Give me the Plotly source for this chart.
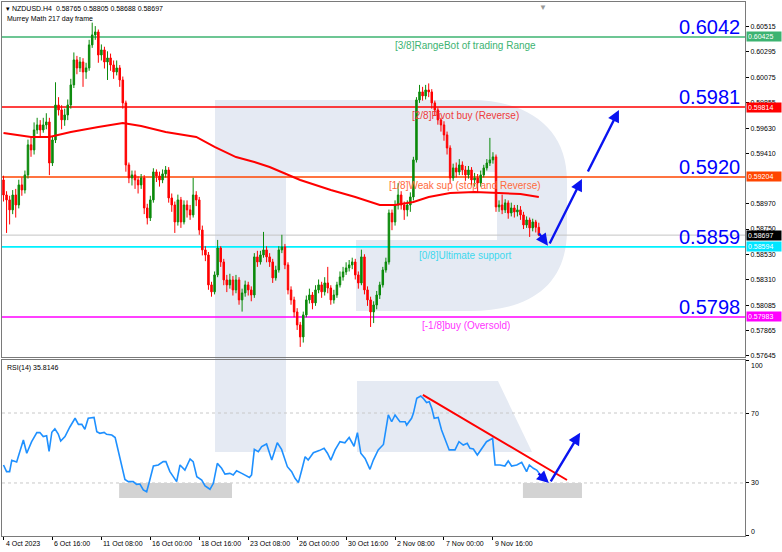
import plotly.graph_objects as go

# ---------------- DATA ----------------
first_open = 0.59178
closes = [
    0.59047, 0.59004, 0.58917, 0.59047, 0.58960, 0.59135, 0.59091, 0.59222, 0.59484, 0.59440,
    0.59614, 0.59658, 0.59614, 0.59658, 0.59684, 0.59326, 0.59527, 0.59832, 0.59789, 0.59702,
    0.59745, 0.59832, 0.60007, 0.60225, 0.60155, 0.60207, 0.60120, 0.60155, 0.60356, 0.60443,
    0.60469, 0.60268, 0.60312, 0.60207, 0.60242, 0.60181, 0.60120, 0.60155, 0.60050, 0.59850,
    0.59309, 0.59196, 0.59222, 0.59178, 0.59135, 0.59196, 0.58934, 0.58847, 0.59004, 0.59248,
    0.59213, 0.59178, 0.59231, 0.59265, 0.59021, 0.58960, 0.58812, 0.59004, 0.58812, 0.58960,
    0.58917, 0.58873, 0.59047, 0.59004, 0.58742, 0.58568, 0.58524, 0.58263, 0.58202, 0.58350,
    0.58585, 0.58463, 0.58306, 0.58263, 0.58306, 0.58219, 0.58306, 0.58132, 0.58193, 0.58263,
    0.58219, 0.58175, 0.58507, 0.58463, 0.58524, 0.58568, 0.58507, 0.58463, 0.58324, 0.58393,
    0.58568, 0.58594, 0.58437, 0.58219, 0.58132, 0.58027, 0.57914, 0.57809, 0.58001, 0.58132,
    0.58175, 0.58106, 0.58219, 0.58263, 0.58202, 0.58280, 0.58236, 0.58132, 0.58175, 0.58263,
    0.58332, 0.58376, 0.58411, 0.58437, 0.58463, 0.58350, 0.58280, 0.58507, 0.58219, 0.58132,
    0.58027, 0.58088, 0.58175, 0.58263, 0.58393, 0.58463, 0.58890, 0.58812, 0.58960, 0.59047,
    0.58960, 0.58917, 0.58960, 0.59030, 0.59353, 0.59876, 0.59946, 0.59911, 0.59963, 0.59946,
    0.59850, 0.59789, 0.59702, 0.59658, 0.59571, 0.59457, 0.59196, 0.59283, 0.59248, 0.59309,
    0.59265, 0.59222, 0.59265, 0.59178, 0.59196, 0.59152, 0.59222, 0.59283, 0.59326, 0.59353,
    0.59379, 0.58943, 0.58960, 0.58917, 0.58978, 0.58890, 0.58934, 0.58899, 0.58917, 0.58873,
    0.58786, 0.58829, 0.58760, 0.58812, 0.58765, 0.58697,
]
highs = [
    0.59215, 0.59080, 0.59040, 0.59090, 0.59100, 0.59180, 0.59200, 0.59260, 0.59530, 0.59560,
    0.59680, 0.59720, 0.59700, 0.59720, 0.59760, 0.59720, 0.59560, 0.60030, 0.59900, 0.59830,
    0.59800, 0.59880, 0.60060, 0.60290, 0.60260, 0.60250, 0.60240, 0.60200, 0.60400, 0.60550,
    0.60520, 0.60490, 0.60360, 0.60340, 0.60300, 0.60280, 0.60220, 0.60220, 0.60180, 0.60080,
    0.59870, 0.59330, 0.59260, 0.59260, 0.59210, 0.59230, 0.59220, 0.58970, 0.59040, 0.59280,
    0.59270, 0.59250, 0.59270, 0.59300, 0.59290, 0.59060, 0.58990, 0.59050, 0.59030, 0.59000,
    0.59000, 0.58960, 0.59196, 0.59080, 0.59030, 0.58780, 0.58600, 0.58550, 0.58290, 0.58380,
    0.58655, 0.58600, 0.58490, 0.58350, 0.58360, 0.58340, 0.58350, 0.58330, 0.58230, 0.58300,
    0.58290, 0.58250, 0.58540, 0.58560, 0.58560, 0.58725, 0.58600, 0.58540, 0.58490, 0.58430,
    0.58600, 0.58700, 0.58620, 0.58460, 0.58250, 0.58160, 0.58060, 0.57940, 0.58030, 0.58170,
    0.58230, 0.58200, 0.58260, 0.58310, 0.58290, 0.58330, 0.58420, 0.58260, 0.58220, 0.58290,
    0.58380, 0.58420, 0.58460, 0.58480, 0.58500, 0.58490, 0.58380, 0.58570, 0.58530, 0.58250,
    0.58160, 0.58120, 0.58210, 0.58290, 0.58420, 0.58500, 0.58920, 0.58920, 0.59000, 0.59150,
    0.59080, 0.58990, 0.59000, 0.59070, 0.59380, 0.59900, 0.60007, 0.59990, 0.60007, 0.60020,
    0.59970, 0.59870, 0.59810, 0.59720, 0.59690, 0.59600, 0.59480, 0.59320, 0.59330, 0.59360,
    0.59340, 0.59300, 0.59300, 0.59290, 0.59240, 0.59230, 0.59260, 0.59310, 0.59360, 0.59545,
    0.59420, 0.59400, 0.59000, 0.59050, 0.59010, 0.59000, 0.58980, 0.58960, 0.58960, 0.58950,
    0.58900, 0.58860, 0.58850, 0.58840, 0.58830, 0.58805,
]
lows = [
    0.58990, 0.58716, 0.58790, 0.58880, 0.58850, 0.58930, 0.59040, 0.59060, 0.59190, 0.59380,
    0.59400, 0.59580, 0.59560, 0.59590, 0.59620, 0.59220, 0.59300, 0.59500, 0.59740, 0.59620,
    0.59650, 0.59700, 0.59800, 0.59980, 0.60100, 0.60120, 0.59990, 0.60060, 0.60130, 0.60330,
    0.60400, 0.60200, 0.60220, 0.60150, 0.60050, 0.60130, 0.60060, 0.60090, 0.59990, 0.59800,
    0.59250, 0.59150, 0.59130, 0.59100, 0.59060, 0.59100, 0.58880, 0.58790, 0.58820, 0.58980,
    0.59160, 0.59120, 0.59150, 0.59200, 0.58980, 0.58900, 0.58716, 0.58780, 0.58760, 0.58790,
    0.58850, 0.58830, 0.58850, 0.58950, 0.58700, 0.58520, 0.58470, 0.58220, 0.58160, 0.58180,
    0.58330, 0.58420, 0.58260, 0.58200, 0.58230, 0.58170, 0.58190, 0.58090, 0.58030, 0.58160,
    0.58170, 0.58120, 0.58150, 0.58420, 0.58440, 0.58500, 0.58460, 0.58420, 0.58280, 0.58300,
    0.58370, 0.58540, 0.58400, 0.58180, 0.58090, 0.57980, 0.57870, 0.57722, 0.57760, 0.57980,
    0.58100, 0.58050, 0.58080, 0.58190, 0.58150, 0.58170, 0.58190, 0.58090, 0.58100, 0.58150,
    0.58240, 0.58300, 0.58350, 0.58380, 0.58400, 0.58310, 0.58230, 0.58260, 0.58180, 0.58080,
    0.57896, 0.57930, 0.58050, 0.58140, 0.58240, 0.58370, 0.58440, 0.58740, 0.58780, 0.58920,
    0.58920, 0.58830, 0.58860, 0.58900, 0.59000, 0.59330, 0.59850, 0.59870, 0.59880, 0.59900,
    0.59800, 0.59740, 0.59660, 0.59600, 0.59520, 0.59400, 0.59150, 0.59170, 0.59200, 0.59220,
    0.59220, 0.59170, 0.59190, 0.59130, 0.59120, 0.59065, 0.59120, 0.59200, 0.59260, 0.59300,
    0.59320, 0.58900, 0.58900, 0.58880, 0.58890, 0.58840, 0.58860, 0.58850, 0.58860, 0.58830,
    0.58750, 0.58760, 0.58681, 0.58730, 0.58720, 0.58688,
]

ma_idx = [0, 9, 15, 22, 31, 39, 45, 53, 63, 69, 76, 82, 87, 97, 107, 115, 123, 128, 134, 139,
          146, 154, 162, 169, 175]
ma_val = [0.59588, 0.59553, 0.59553, 0.59596, 0.59640, 0.59675, 0.59649, 0.59596, 0.59553,
          0.59466, 0.59378, 0.59335, 0.59291, 0.59178, 0.59091, 0.59030, 0.58960, 0.58960,
          0.58986, 0.59030, 0.59064, 0.59073, 0.59064, 0.59056, 0.59030]

rsi_idx = [0, 1, 2, 2.7, 4.3, 5.4, 6.5, 7.6, 9.2, 10.9, 11.9, 13.0, 14.1, 14.9, 15.8, 16.8, 17.9,
           18.7, 20.1, 21.7, 23.4, 24.5, 25.6, 26.6, 27.7, 29.6, 30.5, 31.5, 32.9, 33.7, 35.4,
           36.5, 37.5, 38.6, 39.7, 40.8, 42.4, 43.5, 44.6, 45.7, 46.8, 47.7, 49.0, 50.6, 52.2,
           53.1, 54.4, 56.6, 57.7, 59.3, 61.0, 62.0, 63.2, 64.8, 65.9, 67.5, 68.6, 69.9, 71.3,
           72.4, 74.0, 75.1, 76.2, 77.9, 79.5, 80.4, 81.1, 82.0, 83.3, 84.4, 86.0, 87.7, 89.5,
           90.9, 92.8, 94.2, 95.3, 96.4, 97.5, 98.6, 99.6, 101.3, 103.2, 104.8, 105.9, 107.0,
           108.4, 110.0, 111.6, 113.0, 114.6, 115.7, 116.8, 118.2, 119.8, 120.9, 122.5, 124.2,
           125.8, 126.9, 128.0, 129.6, 131.3, 131.8, 133.4, 134.0, 135.1, 136.4, 137.2, 138.3,
           139.2, 140.0, 140.8, 142.1, 143.2, 144.9, 145.7, 147.6, 148.9, 150.3, 151.6, 152.5,
           153.6, 154.9, 156.3, 157.9, 159.9, 160.7, 162.3, 163.9, 165.0, 166.1, 167.8, 169.4,
           171.0, 171.9, 173.2, 174.3, 175]
rsi_val = [40.3, 36.5, 36.5, 43.0, 42.0, 48.0, 54.6, 47.0, 53.6, 58.8, 58.8, 56.5, 57.0, 48.0,
           59.0, 61.0, 58.0, 54.0, 56.5, 62.0, 67.0, 63.5, 63.5, 60.7, 67.0, 67.5, 59.3, 58.4,
           58.9, 57.8, 57.4, 56.0, 48.9, 41.2, 32.0, 30.8, 30.8, 29.2, 29.4, 26.0, 25.0, 30.8,
           39.7, 40.3, 42.2, 42.2, 36.5, 30.8, 40.3, 37.4, 43.7, 42.2, 33.6, 31.7, 28.3, 26.4,
           29.8, 41.2, 38.4, 35.1, 35.5, 34.6, 37.0, 35.5, 34.0, 33.2, 34.6, 49.2, 47.9, 50.8,
           52.3, 43.1, 53.0, 49.2, 39.3, 36.5, 32.7, 30.2, 37.4, 45.0, 43.1, 47.3, 48.5, 49.8,
           47.0, 43.1, 48.9, 53.6, 53.0, 56.0, 51.0, 58.8, 47.0, 44.0, 37.8, 43.1, 48.9, 52.0,
           68.9, 65.0, 68.9, 65.0, 65.0, 63.1, 67.0, 69.8, 78.4, 79.7, 78.4, 76.0, 76.5, 72.7,
           67.0, 67.5, 60.3, 52.7, 48.9, 48.9, 53.6, 51.7, 52.7, 49.8, 49.4, 46.0, 49.8, 53.6,
           55.5, 40.3, 40.3, 39.7, 42.6, 39.7, 40.3, 41.8, 36.5, 40.3, 38.4, 37.4, 35.8]

date_tick_idx = [0, 16, 32, 48, 64, 80, 96, 112, 128, 144, 160]
date_tick_text = ["4 Oct 2023", "6 Oct 16:00", "11 Oct 08:00", "16 Oct 00:00", "18 Oct 16:00",
                  "23 Oct 08:00", "26 Oct 00:00", "30 Oct 16:00", "2 Nov 08:00", "7 Nov 00:00",
                  "9 Nov 16:00"]
price_ticks = [0.60515, 0.60295, 0.60075, 0.59855, 0.59630, 0.59410, 0.58970, 0.58750,
               0.58530, 0.58310, 0.58085, 0.57865, 0.57645]
rsi_ticks = [0, 30, 70, 100]
rsi_tick_label_val = [2.5, 30, 70, 97]   # where MT4 prints the labels (end labels pulled inside)

murrey_levels = [0.60425, 0.59814, 0.59204, 0.58594, 0.57983]
murrey_names = ["[3/8]RangeBot of trading Range", "[2/8]Pivot buy (Reverse)",
                "[1/8]Weak sup (stop and Reverse)", "[0/8]Ultimate support",
                "[-1/8]buy (Oversold)"]
murrey_name_idx = [127.3, 133.0, 125.4, 135.2, 136.2]
murrey_big = ["0.6042", "0.5981", "0.5920", "0.5859", "0.5798"]
current_price = 0.58697
header_ohlc = "0.58765 0.58805 0.58688 0.58697"
rsi_last = "35.8146"

# forecast arrows (tail -> tip)
fc_from_idx = [174.7, 178.3, 190.8]
fc_from_price = [0.58725, 0.58611, 0.59239]
fc_to_idx = [178.0, 189.1, 201.2]
fc_to_price = [0.58605, 0.59187, 0.59789]
rsi_fc_from_idx = [174.4, 178.6]
rsi_fc_from_val = [36.3, 30.0]
rsi_fc_to_idx = [178.3, 188.5]
rsi_fc_to_val = [30.0, 58.7]
rsi_trend_idx = [137.1, 184.2]
rsi_trend_val = [80.3, 31.7]
rsi_zone_idx = [[37.8, 74.7], [169.8, 189.1]]
rsi_zone_val = [21.4, 30.0]

# ---------------- STYLE / LAYOUT ----------------
W, H = 782, 552
ML, MR, MT, MB = 2, 37, 2, 16
PW, PH = W - ML - MR, H - MT - MB

GREEN = "#0b8a0b"
RED = "#ff0000"
FONT = "Liberation Sans, Arial, sans-serif"
murrey_line_colors = ["#3cb371", "#ff0000", "#ff4500", "#00f0ff", "#ff00ff"]
murrey_text_colors = ["#3cb371", "#ee3b3b", "#ff6a3d", "#3dd8ee", "#ff33ff"]
tag_colors = ["#3cb371", "#ff0000", "#ff4500", "#00e5ff", "#ff00ff"]


def pp(x, y):
    return (x - ML) / PW, (H - MB - y) / PH


def path(cmds):
    s = ""
    for cmd, pts in cmds:
        s += cmd + " ".join("%.5f,%.5f" % pp(*p) for p in pts) + " "
    return s + "Z"


opens = [first_open] + closes[:-1]
idx = list(range(len(closes)))

fig = go.Figure()
fig.add_trace(go.Candlestick(
    x=idx, open=opens, high=highs, low=lows, close=closes,
    increasing=dict(line=dict(color=GREEN, width=1), fillcolor=GREEN),
    decreasing=dict(line=dict(color=RED, width=1), fillcolor=RED),
    whiskerwidth=0, hoverinfo="skip", showlegend=False, xaxis="x", yaxis="y"))
fig.add_trace(go.Scatter(x=ma_idx, y=ma_val, mode="lines", line=dict(color=RED, width=2),
                         showlegend=False, hoverinfo="skip", xaxis="x", yaxis="y"))
fig.add_trace(go.Scatter(x=rsi_idx, y=rsi_val, mode="lines", line=dict(color="#1e90ff", width=1.6),
                         showlegend=False, hoverinfo="skip", xaxis="x2", yaxis="y2"))

shapes = []
wm = "rgb(229,234,243)"
# watermark logo (background)
shapes.append(dict(type="path", xref="paper", yref="paper", layer="below", fillcolor=wm,
                   line=dict(width=0),
                   path=path([("M", [(215, 100)]), ("L", [(470, 100)]),
                              ("C", [(530, 100), (567, 130), (567, 180)]), ("L", [(567, 230)]),
                              ("C", [(567, 285), (530, 311), (470, 311)]),
                              ("L", [(356, 311)]), ("L", [(356, 240)]), ("L", [(497, 240)]),
                              ("L", [(497, 172)]), ("L", [(286, 172)]), ("L", [(286, 452)]),
                              ("L", [(215, 452)])])))
shapes.append(dict(type="path", xref="paper", yref="paper", layer="below", fillcolor=wm,
                   line=dict(width=0),
                   path=path([("M", [(357, 381)]), ("L", [(498, 381)]), ("L", [(532, 452)]),
                              ("L", [(357, 452)])])))
# current price line
shapes.append(dict(type="line", xref="paper", yref="y", x0=0, x1=1, y0=current_price,
                   y1=current_price, line=dict(color="#c4c4c4", width=1), layer="below"))
for lv, c in zip(murrey_levels, murrey_line_colors):
    shapes.append(dict(type="line", xref="paper", yref="y", x0=0, x1=1, y0=lv, y1=lv,
                       line=dict(color=c, width=1.6), layer="below"))
# RSI levels & zones
for lv in [30, 70]:
    shapes.append(dict(type="line", xref="paper", yref="y2", x0=0, x1=1, y0=lv, y1=lv,
                       line=dict(color="#c8c8c8", width=1, dash="dot"), layer="below"))
for z in rsi_zone_idx:
    shapes.append(dict(type="rect", xref="x2", yref="y2", x0=z[0], x1=z[1], y0=rsi_zone_val[0],
                       y1=rsi_zone_val[1], fillcolor="#d3d3d3", line=dict(width=0), layer="below"))
shapes.append(dict(type="line", xref="x2", yref="y2", x0=rsi_trend_idx[0], x1=rsi_trend_idx[1],
                   y0=rsi_trend_val[0], y1=rsi_trend_val[1], line=dict(color=RED, width=2)))

ann = []
tf = dict(family=FONT, size=7, color="#000000")
ann.append(dict(xref="paper", yref="paper", x=pp(4, 0)[0], y=1, yshift=-1, xanchor="left",
                yanchor="top", showarrow=False, font=tf,
                text="▾ NZDUSD.H4  " + header_ohlc))
ann.append(dict(xref="paper", yref="paper", x=pp(5, 0)[0], y=pp(0, 13)[1], xanchor="left",
                yanchor="top", showarrow=False, font=tf, text="Murrey Math 217 day frame"))
ann.append(dict(xref="paper", yref="paper", x=pp(5, 0)[0], y=pp(0, 362)[1], xanchor="left",
                yanchor="top", showarrow=False, font=tf, text="RSI(14) " + rsi_last))
ann.append(dict(xref="paper", yref="paper", x=pp(543, 0)[0], y=1, yshift=1, xanchor="center",
                yanchor="top", showarrow=False, font=dict(family=FONT, size=8, color="#999999"),
                text="▼"))
for i, t in zip(date_tick_idx, date_tick_text):
    ann.append(dict(xref="x2", yref="paper", x=i, y=0, yshift=-2, xanchor="left", yanchor="top",
                    showarrow=False, font=tf, text=t))
for v, lv in zip(rsi_ticks, rsi_tick_label_val):
    ann.append(dict(xref="paper", yref="y2", x=1, xshift=4, y=lv, xanchor="left",
                    yanchor="middle", showarrow=False, font=tf, text=str(v)))
for lv, nm, ni, tc, big, tg in zip(murrey_levels, murrey_names, murrey_name_idx,
                                   murrey_text_colors, murrey_big, tag_colors):
    ann.append(dict(xref="x", yref="y", x=ni, y=lv, yshift=-1, xanchor="left", yanchor="top",
                    showarrow=False, font=dict(family=FONT, size=10, color=tc), text=nm))
    ann.append(dict(xref="paper", yref="y", x=pp(742, 0)[0], y=lv, yshift=-3, xanchor="right",
                    yanchor="bottom", showarrow=False,
                    font=dict(family=FONT, size=20, color="#0000ff"), text=big))
    ann.append(dict(xref="paper", yref="y", x=1, y=lv, xshift=1, xanchor="left",
                    yanchor="middle", showarrow=False, bgcolor=tg, borderpad=1, width=32,
                    align="left", font=dict(family=FONT, size=7, color="#ffffff"),
                    text="%.5f" % lv))
ann.append(dict(xref="paper", yref="y", x=1, y=current_price, xshift=1, xanchor="left",
                yanchor="middle", showarrow=False, bgcolor="#000000", borderpad=1, width=32,
                align="left", font=dict(family=FONT, size=7, color="#ffffff"),
                text="%.5f" % current_price))
for a0, p0, a1, p1 in zip(fc_from_idx, fc_from_price, fc_to_idx, fc_to_price):
    ann.append(dict(xref="x", yref="y", axref="x", ayref="y", x=a1, y=p1, ax=a0, ay=p0,
                    text="", showarrow=True, arrowhead=2, arrowsize=1, arrowwidth=2.4,
                    arrowcolor="#0a14f0"))
for a0, p0, a1, p1 in zip(rsi_fc_from_idx, rsi_fc_from_val, rsi_fc_to_idx, rsi_fc_to_val):
    ann.append(dict(xref="x2", yref="y2", axref="x2", ayref="y2", x=a1, y=p1, ax=a0, ay=p0,
                    text="", showarrow=True, arrowhead=2, arrowsize=1, arrowwidth=2.4,
                    arrowcolor="#0a14f0"))

xr = [-0.49, 242.4]
axis_common = dict(showline=True, mirror=True, linecolor="#7a7a7a", linewidth=1,
                   showgrid=False, zeroline=False, automargin=False)
fig.update_layout(
    template="none",
    width=W, height=H, margin=dict(l=ML, r=MR, t=MT, b=MB, autoexpand=False),
    paper_bgcolor="white", plot_bgcolor="rgba(0,0,0,0)",
    font=dict(family=FONT, size=7, color="#000"),
    showlegend=False, hovermode=False,
    xaxis=dict(domain=[0, 1], range=xr, anchor="y", showticklabels=False, ticks="",
               rangeslider=dict(visible=False), **axis_common),
    yaxis=dict(domain=[0.3352, 1], range=[0.57634, 0.60730], anchor="x", side="right",
               tickvals=price_ticks, ticktext=["%.5f" % v for v in price_ticks],
               ticks="outside", ticklen=3, tickcolor="#000", tickfont=dict(size=7),
               **axis_common),
    xaxis2=dict(domain=[0, 1], range=xr, anchor="y2", tickvals=date_tick_idx,
                showticklabels=False, ticks="outside", ticklen=3, tickcolor="#000",
                **axis_common),
    yaxis2=dict(domain=[0, 0.3296], range=[-0.3, 100.3], anchor="x2", side="right",
                tickvals=rsi_ticks, showticklabels=False, ticks="outside",
                ticklen=3, tickcolor="#000", **axis_common),
    shapes=shapes, annotations=ann,
)
fig.write_html("out.html", config={"displayModeBar": False},
               post_script="document.body.style.margin='0';document.body.style.overflow='hidden';")
